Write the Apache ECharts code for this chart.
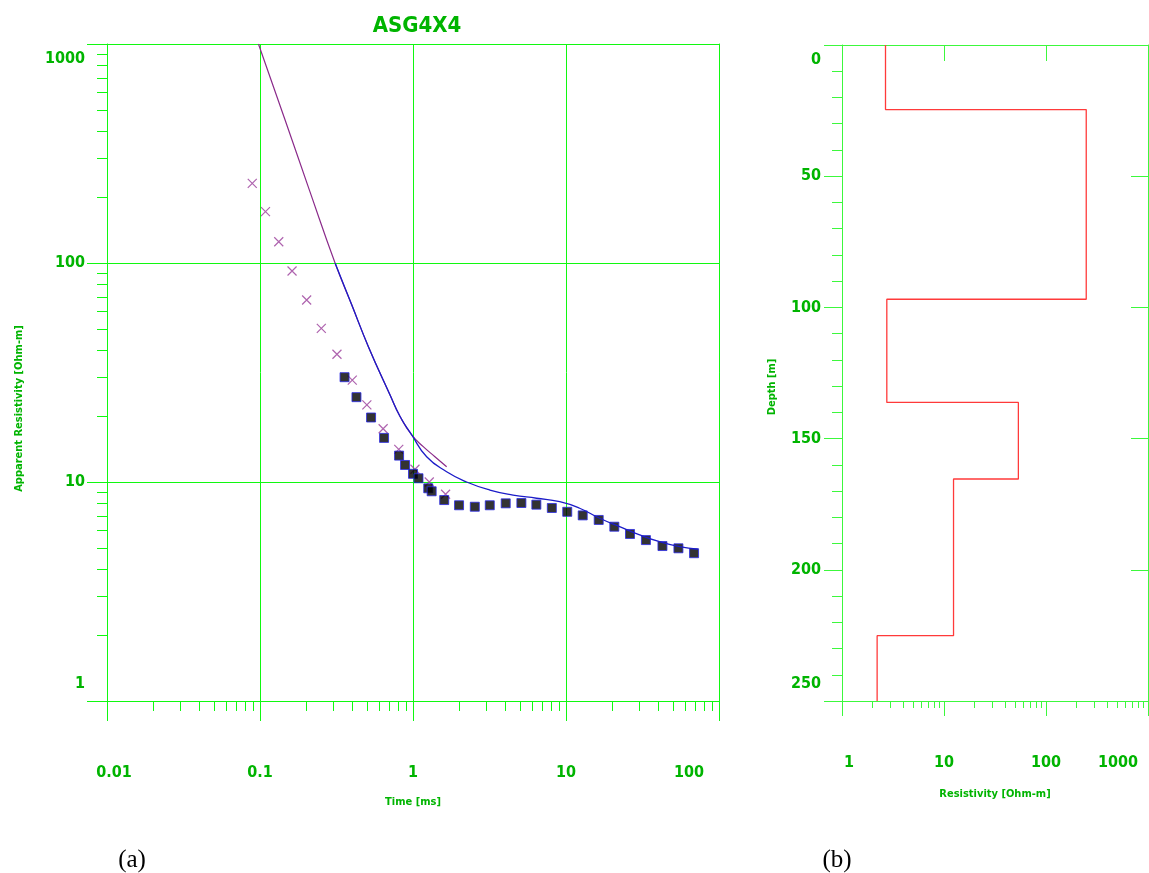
<!DOCTYPE html>
<html><head><meta charset="utf-8">
<script src="https://cdn.jsdelivr.net/npm/echarts@6/dist/echarts.min.js"></script>
<style>html,body{margin:0;padding:0;background:#fff}#c{width:1149px;height:873px}</style>
</head><body><div id="c"></div><script>
// ---------- data (left panel: TEM sounding) ----------
const measTime = [0.357,0.427,0.532,0.647,0.811,0.887,1.0,1.086,1.258,1.324,1.60,2.00,2.535,3.175,4.036,5.11,6.40,8.08,10.19,12.86,16.36,20.7,26.2,33.3,42.7,54.3,68.7];
const measRho  = [30.1,24.4,19.7,15.9,13.2,11.96,10.9,10.4,9.36,9.07,8.27,7.83,7.71,7.83,7.99,8.02,7.88,7.61,7.31,7.04,6.71,6.25,5.79,5.43,5.10,4.98,4.73];
const crossTime = [0.0890,0.1086,0.1326,0.162,0.2018,0.2516,0.3184,0.401,0.4994,0.638,0.807,1.03,1.277,1.633];
const crossRho  = [231,171.5,125,91.9,67.8,50.3,38.3,29.2,22.5,17.5,14.1,11.43,10.0,8.79];
const purpleTime = [0.0977,0.1438,0.2106,0.3099,0.397,0.511,0.708,0.823,0.981,1.167,1.391,1.659];
const purpleRho  = [1000,463,214.7,99.7,64.6,41.5,24.95,19.9,16.4,14.5,13.05,11.74];
const blueTime = [0.3099,0.397,0.511,0.708,0.823,0.981,1.228,1.659,2.24,3.18,4.51,6.41,9.10,12.28,16.6,22.4,30.3,40.9,55.2,72.6];
const blueRho  = [99.7,64.6,41.5,24.95,19.9,16.4,13.05,11.14,10.0,9.19,8.72,8.43,8.13,7.59,6.83,6.25,5.73,5.34,5.07,4.93];
// ---------- data (right panel: layered model) ----------
const layerRho = [2.67, 248, 2.75, 53.6, 12.4, 2.21];
const layerTop = [0, 24.6, 96.9, 136.2, 165.4, 225.1];
const maxDepth = 250;
// ---------- tick labels ----------
const timeTickLabels = ['0.01','0.1','1','10','100'];     // decades -2..2
const appResTickLabels = ['1','10','100','1000'];          // decades 0..3
const resTickLabels = ['1','10','100','1000'];             // decades 0..3
const depthTickLabels = ['0','50','100','150','200','250'];

const GREEN = '#10f810', GREEN2 = '#3cf83c', TXT = '#00b400';
const FONT = "'DejaVu Sans Condensed','Liberation Sans Narrow',sans-serif";

function minorLog(d0, d1){ const out=[]; for(let k=d0;k<d1;k++){ for(let m=2;m<=9;m++) out.push(+(m*Math.pow(10,k)).toPrecision(6)); } return out; }
function zip(a,b){ return a.map((v,i)=>[v,b[i]]); }
const stepData = [];
layerRho.forEach((r,i)=>{ const top=layerTop[i]; const bot = i+1<layerTop.length?layerTop[i+1]:maxDepth; stepData.push([r,top]); stepData.push([r,bot]); });

const lblBase = {color:TXT, fontFamily:FONT, fontWeight:'bold', fontSize:16};
const rich = { n:{}, l:{padding:[0,0,0,14]}, r:{padding:[0,60,0,0]}, t:{padding:[30,0,0,0]}, b:{padding:[0,0,34,0]} };
function logFmt(labels, d0, first, last){
  return function(v){ const i = Math.round(Math.log10(v)) - d0; const t = labels[i]; if(t===undefined) return '';
    const key = i===0?first:(i===labels.length-1?last:'n'); return '{'+key+'|'+t+'}'; };
}
const line = {lineStyle:{color:GREEN,width:1}};
const line2 = {lineStyle:{color:GREEN2,width:1}};
const nameStyle = {color:TXT, fontFamily:FONT, fontWeight:'bold', fontSize:11};

const option = {
  animation:false,
  backgroundColor:'#fff',
  title:[
    {text:'ASG4X4', left:412, top:10, textAlign:'center', textStyle:{color:TXT,fontFamily:FONT,fontWeight:'bold',fontSize:22}},
    {text:'(a)', left:127, top:843, textAlign:'center', textStyle:{color:'#000',fontFamily:"'Liberation Serif',serif",fontWeight:'normal',fontSize:25}},
    {text:'(b)', left:832, top:843, textAlign:'center', textStyle:{color:'#000',fontFamily:"'Liberation Serif',serif",fontWeight:'normal',fontSize:25}}
  ],
  grid:[
    {left:107, top:44, width:612, height:657, containLabel:false, outerBoundsMode:'none'},
    {left:842, top:45, width:306, height:656, containLabel:false, outerBoundsMode:'none'}
  ],
  xAxis:[
    {type:'log', logBase:10, gridIndex:0, min:0.01, max:100, position:'bottom',
     name:'Time [ms]', nameLocation:'middle', nameGap:96, nameTextStyle:nameStyle,
     axisLine:{show:true,onZero:false,...line}, axisTick:{show:true,inside:false,length:20,...line},
     axisLabel:{...lblBase, margin:64, formatter:logFmt(timeTickLabels,-2,'l','r'), rich:rich},
     splitLine:{show:true, lineStyle:{color:GREEN,width:1}}, minorTick:{show:false}},
    {type:'log', logBase:10, gridIndex:0, min:0.01, max:100, position:'bottom',
     axisLine:{show:false,onZero:false}, axisLabel:{show:false}, splitLine:{show:false},
     axisTick:{show:true,inside:false,length:10,customValues:minorLog(-2,2),...line}},
    {type:'log', logBase:10, gridIndex:1, min:1, max:1000, position:'bottom',
     name:'Resistivity [Ohm-m]', nameLocation:'middle', nameGap:88, nameTextStyle:nameStyle,
     axisLine:{show:true,onZero:false,...line2}, axisTick:{show:true,inside:false,length:15,...line2},
     axisLabel:{...lblBase, margin:54, formatter:logFmt(resTickLabels,0,'l','r'), rich:rich},
     splitLine:{show:false}},
    {type:'log', logBase:10, gridIndex:1, min:1, max:1000, position:'bottom',
     axisLine:{show:false,onZero:false}, axisLabel:{show:false}, splitLine:{show:false},
     axisTick:{show:true,inside:false,length:7,customValues:minorLog(0,3),...line2}},
    {type:'log', logBase:10, gridIndex:1, min:1, max:1000, position:'top',
     axisLine:{show:true,onZero:false,...line2}, axisLabel:{show:false}, splitLine:{show:false},
     axisTick:{show:true,inside:true,length:16,...line2}},
    {type:'log', logBase:10, gridIndex:0, min:0.01, max:100, position:'top',
     axisLine:{show:true,onZero:false,...line}, axisLabel:{show:false}, splitLine:{show:false}, axisTick:{show:false}}
  ],
  yAxis:[
    {type:'log', logBase:10, gridIndex:0, min:1, max:1000, position:'left',
     name:'Apparent Resistivity [Ohm-m]', nameLocation:'middle', nameRotate:90, nameGap:82,
     nameTextStyle:{...nameStyle, padding:[0,72,0,0]},
     axisLine:{show:true,onZero:false,...line}, axisTick:{show:true,inside:false,length:20,...line},
     axisLabel:{...lblBase, margin:22, formatter:logFmt(appResTickLabels,0,'b','t'), rich:rich},
     splitLine:{show:true, lineStyle:{color:GREEN,width:1}}},
    {type:'log', logBase:10, gridIndex:0, min:1, max:1000, position:'left',
     axisLine:{show:false,onZero:false}, axisLabel:{show:false}, splitLine:{show:false},
     axisTick:{show:true,inside:false,length:10,customValues:minorLog(0,3),...line}},
    {type:'value', gridIndex:1, min:0, max:maxDepth, interval:50, inverse:true, position:'left',
     name:'Depth [m]', nameLocation:'middle', nameRotate:90, nameGap:64,
     nameTextStyle:{...nameStyle, padding:[0,28,0,0]},
     axisLine:{show:true,onZero:false,...line2}, axisTick:{show:true,inside:false,length:18,...line2},
     minorTick:{show:true, splitNumber:5, length:10, lineStyle:{color:GREEN2,width:1}},
     axisLabel:{...lblBase, margin:21, rich:rich, formatter:function(v){ const i=Math.round(v/50); const t=depthTickLabels[i]; return i===0?'{t|'+t+'}':(i===depthTickLabels.length-1?'{b|'+t+'}':'{n|'+t+'}'); }},
     splitLine:{show:false}},
    {type:'value', gridIndex:1, min:0, max:maxDepth, interval:50, inverse:true, position:'right',
     axisLine:{show:true,onZero:false,...line2}, axisLabel:{show:false}, splitLine:{show:false},
     axisTick:{show:true,inside:true,length:17,...line2}},
    {type:'log', logBase:10, gridIndex:0, min:1, max:1000, position:'right',
     axisLine:{show:true,onZero:false,...line}, axisLabel:{show:false}, splitLine:{show:false}, axisTick:{show:false}}
  ],
  series:[
    {type:'scatter', xAxisIndex:0, yAxisIndex:0, data:zip(crossTime,crossRho),
     symbol:'path://M0,0L10,10M10,0L0,10', symbolSize:9,
     itemStyle:{color:'rgba(0,0,0,0)', borderColor:'#9a3c9a', borderWidth:1.2}, z:3},
    {type:'scatter', xAxisIndex:0, yAxisIndex:0, data:zip(measTime,measRho),
     symbol:'rect', symbolSize:9, itemStyle:{color:'#000', borderColor:'#2a2ae6', borderWidth:1}, z:4},
    {type:'line', xAxisIndex:0, yAxisIndex:0, data:zip(purpleTime,purpleRho), smooth:0.5,
     showSymbol:false, lineStyle:{color:'#8a2a8a', width:1.2}, z:5},
    {type:'line', xAxisIndex:0, yAxisIndex:0, data:zip(blueTime,blueRho), smooth:0.5,
     showSymbol:false, lineStyle:{color:'#1c1cc8', width:1.3}, z:6},
    {type:'line', xAxisIndex:2, yAxisIndex:2, data:stepData, showSymbol:false,
     lineStyle:{color:'#ff3a3a', width:1.3}, z:5}
  ]
};
const chart = echarts.init(document.getElementById('c'), null, {renderer:'canvas'});
chart.setOption(option);
</script></body></html>
